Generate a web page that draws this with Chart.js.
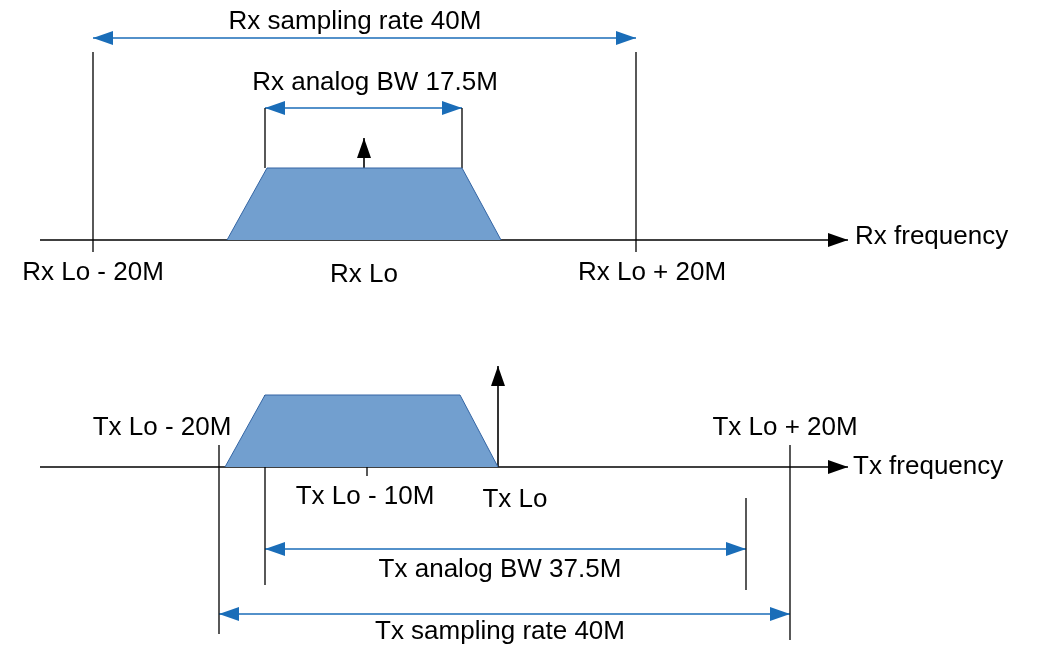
<!DOCTYPE html>
<html>
<head>
<meta charset="utf-8">
<script src="https://cdn.jsdelivr.net/npm/chart.js@4"></script>
<style>
  html, body { margin: 0; padding: 0; background: #fff; }
  canvas { display: block; }
</style>
</head>
<body>
<canvas id="diagram" width="1044" height="653"></canvas>
<script>
/* Colors */
const BLUE = "#1a6db8";
const FILL = "#729fcf";
const EDGE = "#3465a4";

/* Geometry (x: pixel column, y: pixel row) */
const rxAxisY = 240;
const txAxisY = 467;
const rxTrapX = [227, 267, 462, 501];
const rxTrapY = [240, 168, 168, 240];
const txTrapX = [225, 265, 460, 498];
const txTrapY = [467, 395, 395, 467];

/* thin black verticals: [x, yTop, yBottom] */
const markers = [
  [93, 52, 252], [636, 52, 252], [265, 108, 168], [462, 108, 168],
  [219, 445, 634], [265, 395, 585], [746, 498, 590], [790, 445, 640], [367, 450, 476]
];
/* blue dimension arrows: [xStart, xEnd, y] */
const spans = [[93, 636, 38], [265, 462, 108], [265, 746, 549], [219, 790, 614]];
/* upward carrier arrows: [x, yBase, yTip] */
const carriers = [[364, 240, 138], [498, 467, 366]];

/* texts: [text, x, y, align] */
const labels = [
  ["Rx sampling rate 40M", 355, 22, "center"],
  ["Rx analog BW 17.5M", 375, 83, "center"],
  ["Rx frequency", 855, 237, "left"],
  ["Rx Lo - 20M", 93, 273, "center"],
  ["Rx Lo", 364, 275, "center"],
  ["Rx Lo + 20M", 652, 273, "center"],
  ["Tx Lo - 20M", 162, 428, "center"],
  ["Tx Lo + 20M", 785, 428, "center"],
  ["Tx frequency", 853, 467, "left"],
  ["Tx Lo - 10M", 365, 497, "center"],
  ["Tx Lo", 515, 500, "center"],
  ["Tx analog BW 37.5M", 500, 570, "center"],
  ["Tx sampling rate 40M", 500, 632, "center"]
];

function seg(pts, color, width, extra) {
  return Object.assign({
    type: 'line', data: pts, borderColor: color, borderWidth: width,
    pointRadius: 0, fill: false, tension: 0
  }, extra || {});
}

const datasets = [];
datasets.push(seg(rxTrapX.map((x, i) => ({ x, y: rxTrapY[i] })), EDGE, 1,
  { backgroundColor: FILL, fill: { target: { value: rxAxisY } } }));
datasets.push(seg(txTrapX.map((x, i) => ({ x, y: txTrapY[i] })), EDGE, 1,
  { backgroundColor: FILL, fill: { target: { value: txAxisY } } }));
datasets.push(seg([{ x: 40, y: rxAxisY }, { x: 848, y: rxAxisY }], "#000", 1.3, { arrow: 'end' }));
datasets.push(seg([{ x: 40, y: txAxisY }, { x: 848, y: txAxisY }], "#000", 1.3, { arrow: 'end' }));
markers.forEach(m => datasets.push(seg([{ x: m[0], y: m[1] }, { x: m[0], y: m[2] }], "#000", 1.3)));
spans.forEach(s => datasets.push(seg([{ x: s[0], y: s[2] }, { x: s[1], y: s[2] }], BLUE, 1.3, { arrow: 'both' })));
carriers.forEach(c => datasets.push(seg([{ x: c[0], y: c[1] }, { x: c[0], y: c[2] }], "#000", 1.6, { arrow: 'end' })));

/* arrowheads at dataset endpoints */
const arrowPlugin = {
  id: 'arrows',
  afterDatasetsDraw(chart) {
    const ctx = chart.ctx;
    chart.data.datasets.forEach((ds, i) => {
      if (!ds.arrow) return;
      const pts = chart.getDatasetMeta(i).data;
      const head = (a, b) => {
        const ang = Math.atan2(b.y - a.y, b.x - a.x);
        const L = 20, W = 7;
        ctx.beginPath();
        ctx.moveTo(b.x, b.y);
        ctx.lineTo(b.x - L * Math.cos(ang) + W * Math.sin(ang), b.y - L * Math.sin(ang) - W * Math.cos(ang));
        ctx.lineTo(b.x - L * Math.cos(ang) - W * Math.sin(ang), b.y - L * Math.sin(ang) + W * Math.cos(ang));
        ctx.closePath();
        ctx.fill();
      };
      ctx.save();
      ctx.fillStyle = ds.borderColor;
      head(pts[0], pts[1]);
      if (ds.arrow === 'both') head(pts[1], pts[0]);
      ctx.restore();
    });
  }
};

const textPlugin = {
  id: 'texts',
  afterDraw(chart) {
    const ctx = chart.ctx;
    const sx = chart.scales.x, sy = chart.scales.y;
    ctx.save();
    ctx.fillStyle = "#000";
    ctx.font = '26px "Liberation Sans", Arial, sans-serif';
    ctx.textBaseline = 'middle';
    labels.forEach(l => {
      ctx.textAlign = l[3];
      ctx.fillText(l[0], sx.getPixelForValue(l[1]), sy.getPixelForValue(l[2]));
    });
    ctx.restore();
  }
};

new Chart(document.getElementById('diagram'), {
  type: 'line',
  data: { datasets },
  options: {
    responsive: false,
    animation: false,
    layout: { padding: 0 },
    plugins: { legend: { display: false }, tooltip: { enabled: false } },
    scales: {
      x: { type: 'linear', min: 0, max: 1044, display: false },
      y: { type: 'linear', min: 0, max: 653, reverse: true, display: false }
    }
  },
  plugins: [arrowPlugin, textPlugin]
});
</script>
</body>
</html>
